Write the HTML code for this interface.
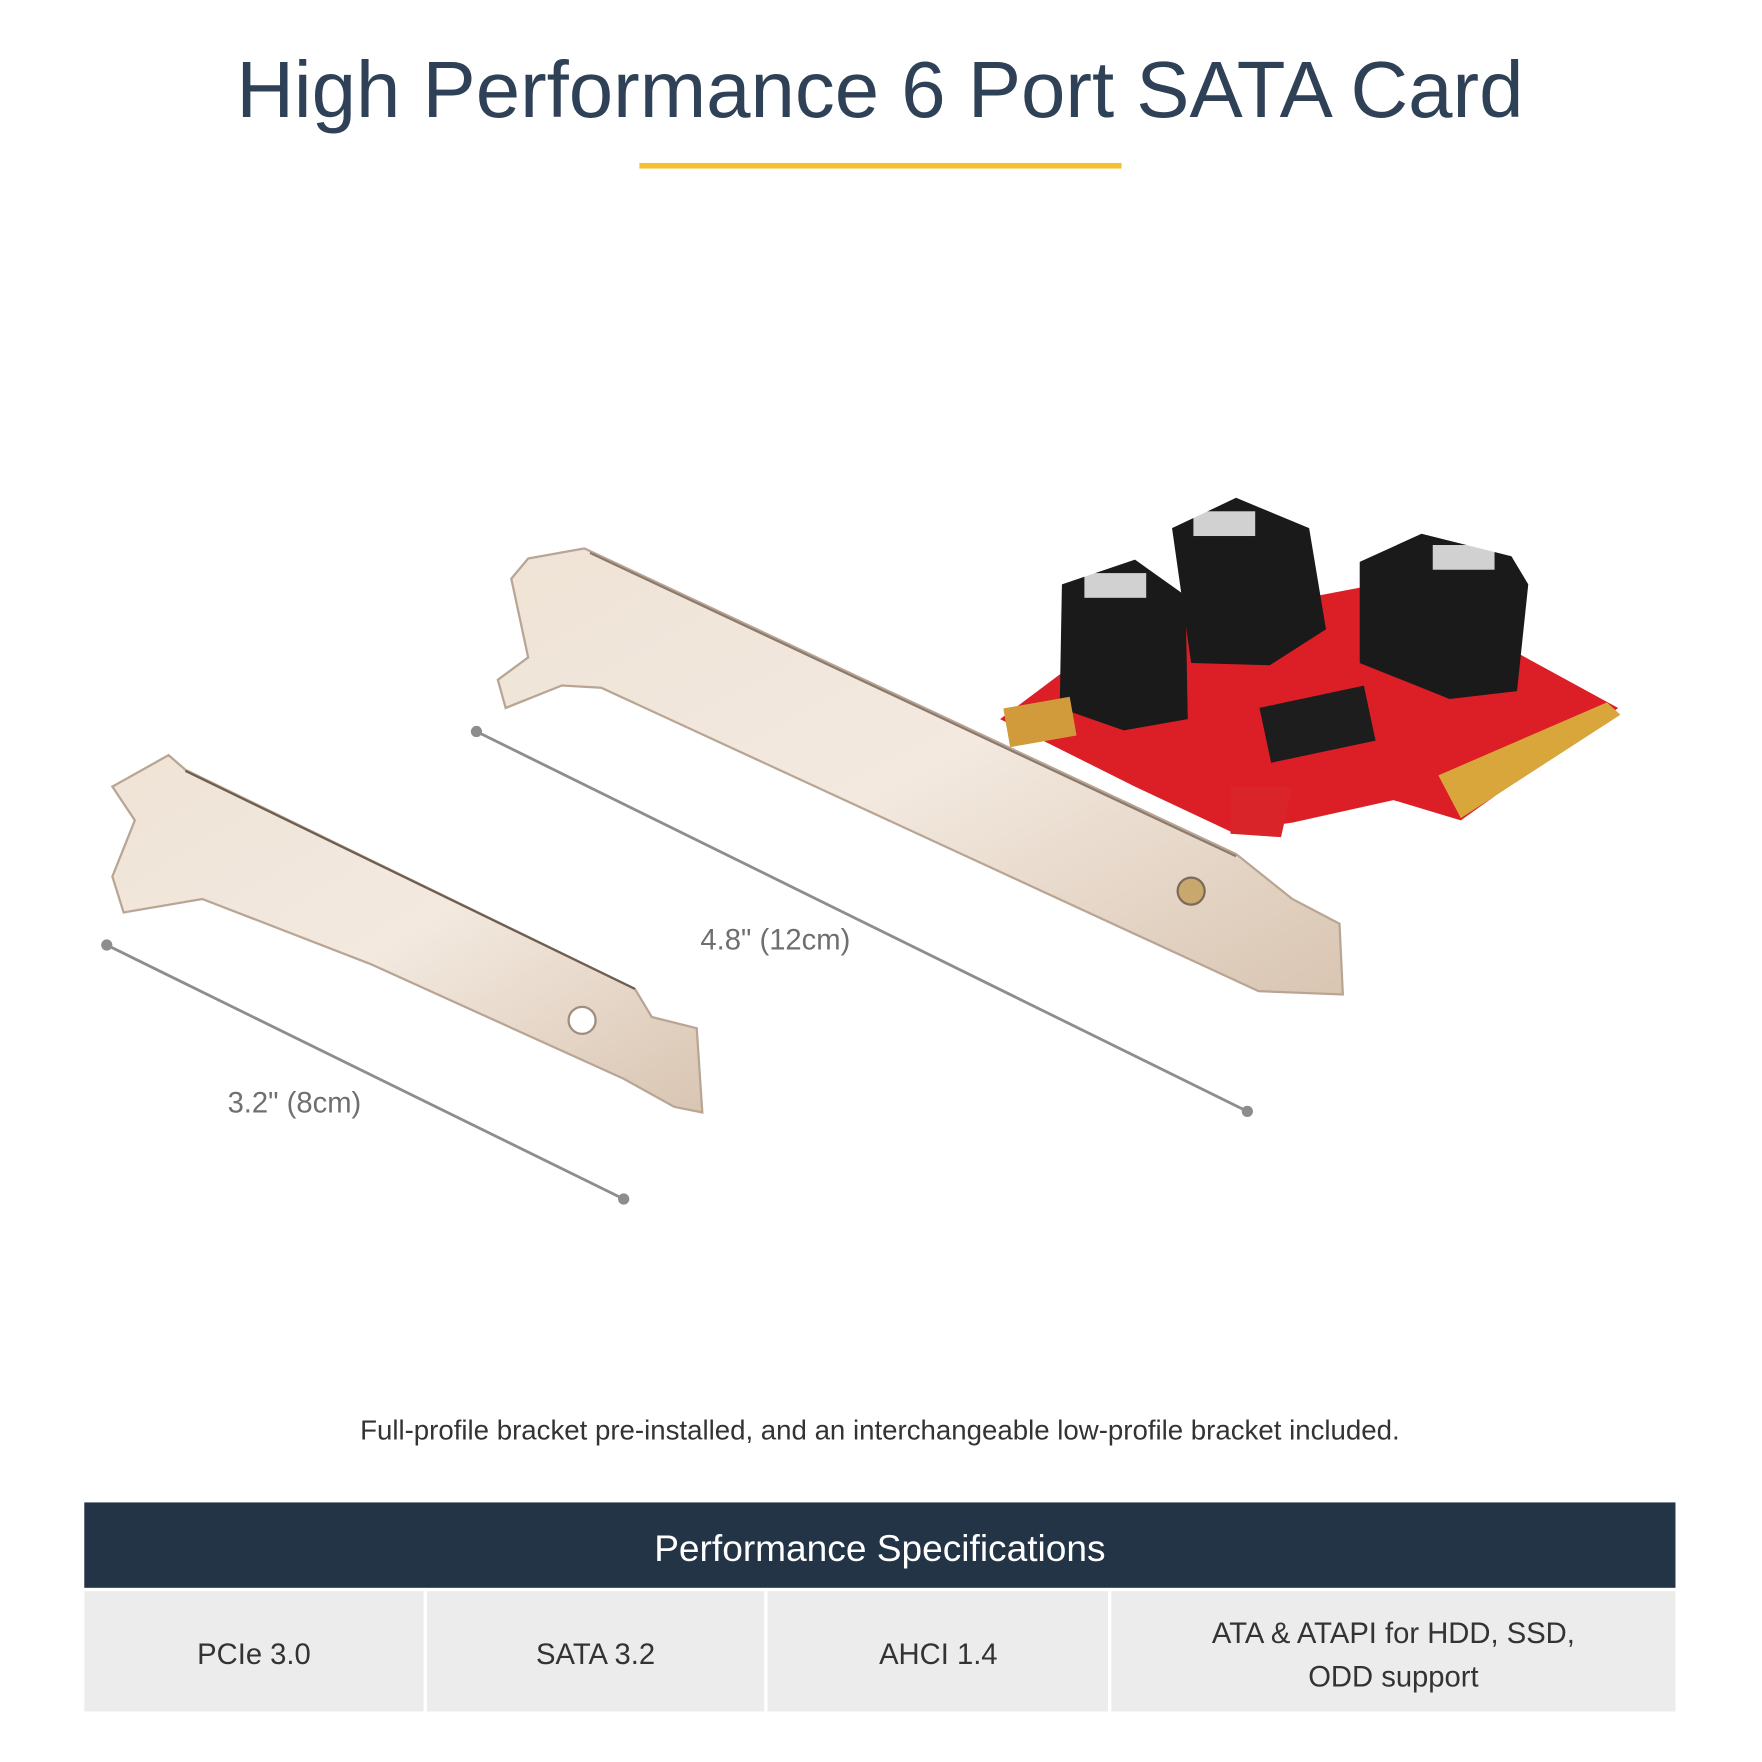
<!DOCTYPE html>
<html><head><meta charset="utf-8">
<style>
html,body{margin:0;padding:0;background:#fff;}
svg{display:block;}
text{font-family:"Liberation Sans","DejaVu Sans",sans-serif;}
</style></head>
<body>
<svg width="1762" height="1762" viewBox="0 0 1568 1568" xmlns="http://www.w3.org/2000/svg">
<defs>
<linearGradient id="metal" x1="0" y1="0" x2="1" y2="1">
<stop offset="0" stop-color="#efe3d6"/><stop offset="0.5" stop-color="#f3e9df"/><stop offset="1" stop-color="#d9c5b2"/>
</linearGradient>
</defs>
<rect width="1568" height="1568" fill="#fff"/>
<text x="783" y="104" font-size="71" fill="#2e4156" text-anchor="middle">High Performance 6 Port SATA Card</text>
<rect x="569" y="145" width="429" height="5" fill="#f2c12e"/>

<!-- full bracket -->
<polygon points="470,497 520,488 1100,760 1150,800 1192,822 1195,885 1120,882 1055,852 535,612 500,610 450,630 443,605 470,585 455,515" fill="url(#metal)" stroke="#b9a594" stroke-width="2"/>
<line x1="525" y1="492" x2="1100" y2="762" stroke="#8c7b6d" stroke-width="2"/>
<circle cx="1060" cy="793" r="12" fill="#c9a86e" stroke="#7a6a5a" stroke-width="2"/>
<!-- PCB -->
<polygon points="890,640 990,565 1215,522 1262,505 1330,570 1440,630 1300,730 1240,712 1150,732 1095,740 1010,700" fill="#dc1f26"/>
<polygon points="1280,690 1430,625 1442,636 1300,728" fill="#d8a63a"/>
<polygon points="1095,700 1150,700 1140,745 1095,742" fill="#d9242a"/>
<rect x="1125" y="620" width="95" height="50" fill="#1d1d1d" transform="rotate(-12 1170 645)"/>
<!-- connectors -->
<polygon points="945,520 1010,498 1055,530 1057,640 1000,650 943,630" fill="#1a1a1a"/>
<polygon points="1043,470 1100,443 1165,470 1180,560 1130,592 1060,590" fill="#1a1a1a"/>
<polygon points="1210,500 1265,475 1345,495 1360,520 1350,615 1290,622 1210,590" fill="#1a1a1a"/>
<rect x="965" y="510" width="55" height="22" fill="#fff" opacity="0.8"/>
<rect x="1062" y="455" width="55" height="22" fill="#fff" opacity="0.8"/>
<rect x="1275" y="485" width="55" height="22" fill="#fff" opacity="0.8"/>
<g fill="#d19a3a"><rect x="895" y="625" width="60" height="35" transform="rotate(-10 925 640)"/></g>

<!-- low-profile bracket -->
<polygon points="100,700 150,672 165,685 565,880 580,905 620,915 625,990 600,985 555,960 330,858 180,800 110,812 100,780 120,730" fill="url(#metal)" stroke="#b9a594" stroke-width="2"/>
<line x1="165" y1="686" x2="565" y2="880" stroke="#6e5e50" stroke-width="2"/>
<circle cx="518" cy="908" r="12" fill="#fff" stroke="#a08d7c" stroke-width="2"/>

<!-- dimension lines -->
<line x1="424" y1="651" x2="1110" y2="989" stroke="#8d8d8d" stroke-width="2.5"/>
<circle cx="424" cy="651" r="5" fill="#8d8d8d"/><circle cx="1110" cy="989" r="5" fill="#8d8d8d"/>
<line x1="95" y1="841" x2="555" y2="1067" stroke="#8d8d8d" stroke-width="2.5"/>
<circle cx="95" cy="841" r="5" fill="#8d8d8d"/><circle cx="555" cy="1067" r="5" fill="#8d8d8d"/>
<text x="690" y="845" font-size="26" fill="#6f6f6f" text-anchor="middle">4.8" (12cm)</text>
<text x="262" y="990" font-size="26" fill="#6f6f6f" text-anchor="middle">3.2" (8cm)</text>

<text x="783" y="1281" font-size="24.6" fill="#333" text-anchor="middle">Full-profile bracket pre-installed, and an interchangeable low-profile bracket included.</text>

<!-- table -->
<rect x="75" y="1337" width="1416" height="76" fill="#233447"/>
<text x="783" y="1389" font-size="33" fill="#fff" text-anchor="middle">Performance Specifications</text>
<rect x="75" y="1416" width="302" height="107" fill="#ececec"/>
<rect x="380" y="1416" width="300" height="107" fill="#ececec"/>
<rect x="683" y="1416" width="303" height="107" fill="#ececec"/>
<rect x="989" y="1416" width="502" height="107" fill="#ececec"/>
<g font-size="26" fill="#333" text-anchor="middle">
<text x="226" y="1481">PCIe 3.0</text>
<text x="530" y="1481">SATA 3.2</text>
<text x="835" y="1481">AHCI 1.4</text>
<text x="1240" y="1462">ATA &amp; ATAPI for HDD, SSD,</text>
<text x="1240" y="1501">ODD support</text>
</g>
</svg>
</body></html>
